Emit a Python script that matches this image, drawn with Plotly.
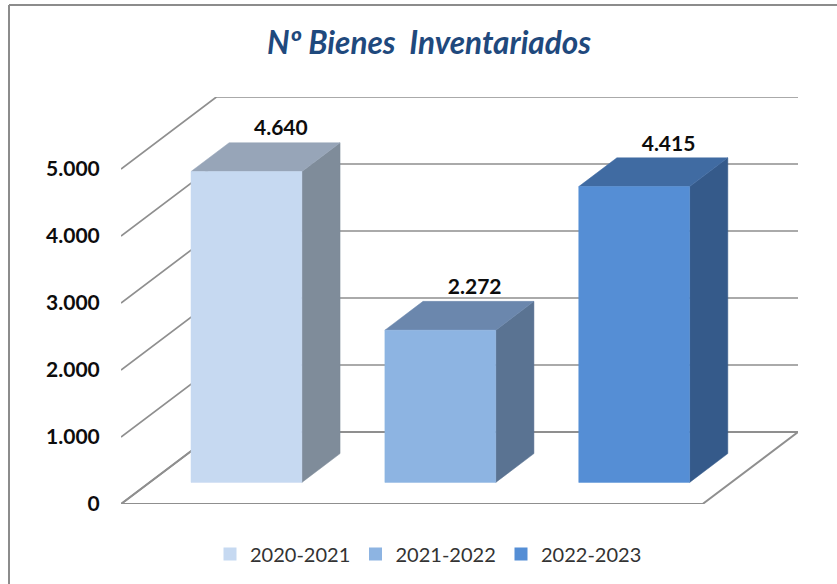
import plotly.graph_objects as go

# ---- data ----
periods = ["2020-2021", "2021-2022", "2022-2023"]
values = [4640, 2272, 4415]
value_labels = ["4.640", "2.272", "4.415"]
y_ticks = [0, 1000, 2000, 3000, 4000, 5000]
y_tick_labels = ["0", "1.000", "2.000", "3.000", "4.000", "5.000"]

front_colors = ["#C6D9F1", "#8DB4E2", "#558ED5"]
side_colors = ["#7F8C9A", "#5A7392", "#355A8A"]
top_colors = ["#97A5B8", "#6B87AD", "#406BA2"]

# ---- oblique projection of the Excel-style 3D chart ----
DEPTH_X = 0.492      # category units for full floor depth
DEPTH_Y = 1075       # value units for full floor depth
BAR_START, BAR_WIDTH = 0.2135, 0.572
BAR_D0, BAR_D1 = 0.3, 0.7
LABEL_GAP = 30
GRID = "#8F8F8F"


def P(u, v, d):
    return u + d * DEPTH_X, v + d * DEPTH_Y


def poly(points):
    xs, ys = zip(*[P(*p) for p in points])
    return list(xs) + [xs[0]], list(ys) + [ys[0]]


n = len(periods)
fig = go.Figure()

# walls: grid lines along side wall and back wall
for t in y_ticks:
    xs, ys = zip(*[P(0, t, 0), P(0, t, 1), P(n, t, 1)])
    fig.add_trace(go.Scatter(x=xs, y=ys, mode="lines", showlegend=False, hoverinfo="skip",
                             line=dict(color=GRID, width=1.7)))
# floor
fx, fy = poly([(0, 0, 0), (n, 0, 0), (n, 0, 1), (0, 0, 1)])
fig.add_trace(go.Scatter(x=fx, y=fy, mode="lines", showlegend=False, hoverinfo="skip",
                         line=dict(color=GRID, width=2)))

# bars
for i, v in enumerate(values):
    a, b = i + BAR_START, i + BAR_START + BAR_WIDTH
    faces = [
        ([(b, 0, BAR_D0), (b, 0, BAR_D1), (b, v, BAR_D1), (b, v, BAR_D0)], side_colors[i]),
        ([(a, v, BAR_D0), (b, v, BAR_D0), (b, v, BAR_D1), (a, v, BAR_D1)], top_colors[i]),
        ([(a, 0, BAR_D0), (b, 0, BAR_D0), (b, v, BAR_D0), (a, v, BAR_D0)], front_colors[i]),
    ]
    for pts, col in faces:
        x, y = poly(pts)
        fig.add_trace(go.Scatter(x=x, y=y, mode="lines", fill="toself", fillcolor=col,
                                 line=dict(color=col, width=0.5), showlegend=False,
                                 hoverinfo="skip"))

# value labels
lx, ly = zip(*[P(i + 0.48, v + LABEL_GAP, BAR_D1) for i, v in enumerate(values)])
fig.add_trace(go.Scatter(x=lx, y=ly, mode="text", text=value_labels, textposition="top center",
                         textfont=dict(family="Lato", size=21, color="#0D0D0D", weight="bold"),
                         showlegend=False, hoverinfo="skip"))

# legend keys
for p, c in zip(periods, front_colors):
    fig.add_trace(go.Scatter(x=[None], y=[None], mode="markers", name=p,
                             marker=dict(symbol="square", size=13, color=c)))

fig.update_layout(
    width=837, height=584, autosize=False,
    margin=dict(l=121, r=39, t=97, b=80),
    paper_bgcolor="white", plot_bgcolor="rgba(0,0,0,0)",
    title=dict(text="<b><i>Nº Bienes  Inventariados</i></b>", x=429 / 837, xanchor="center",
               y=1 - 43 / 584, yanchor="middle",
               font=dict(family="Lato", size=31.5, color="#1F497D")),
    xaxis=dict(range=[0, n + DEPTH_X], visible=False, fixedrange=True),
    yaxis=dict(range=[0, y_ticks[-1] + DEPTH_Y], tickvals=y_ticks, ticktext=y_tick_labels,
               showgrid=False, zeroline=False, showline=False,
               ticks="outside", ticklen=16, tickcolor="rgba(0,0,0,0)",
               tickfont=dict(family="Lato", size=21, color="#0D0D0D", weight="bold"),
               fixedrange=True),
    legend=dict(orientation="h", x=210 / 837, y=1 - 554 / 584, xref="container", yref="container",
                xanchor="left", yanchor="middle", entrywidth=100.5, entrywidthmode="pixels",
                font=dict(family="Lato", size=20, color="#333333"), bgcolor="rgba(0,0,0,0)"),
    shapes=[
        dict(type="line", xref="paper", yref="paper", layer="below",
             x0=-112 / 677, x1=716 / 677, y0=(584 - 5 - 80) / 407, y1=(584 - 5 - 80) / 407,
             line=dict(color="#8C8C8C", width=2)),
        dict(type="line", xref="paper", yref="paper", layer="below",
             x0=-112 / 677, x1=-112 / 677, y0=-80 / 407, y1=(584 - 5 - 80) / 407,
             line=dict(color="#8C8C8C", width=2)),
    ],
)
fig.write_html("out.html", config={"displayModeBar": False},
               post_script="document.body.style.margin='0';document.body.style.overflow='hidden';")
